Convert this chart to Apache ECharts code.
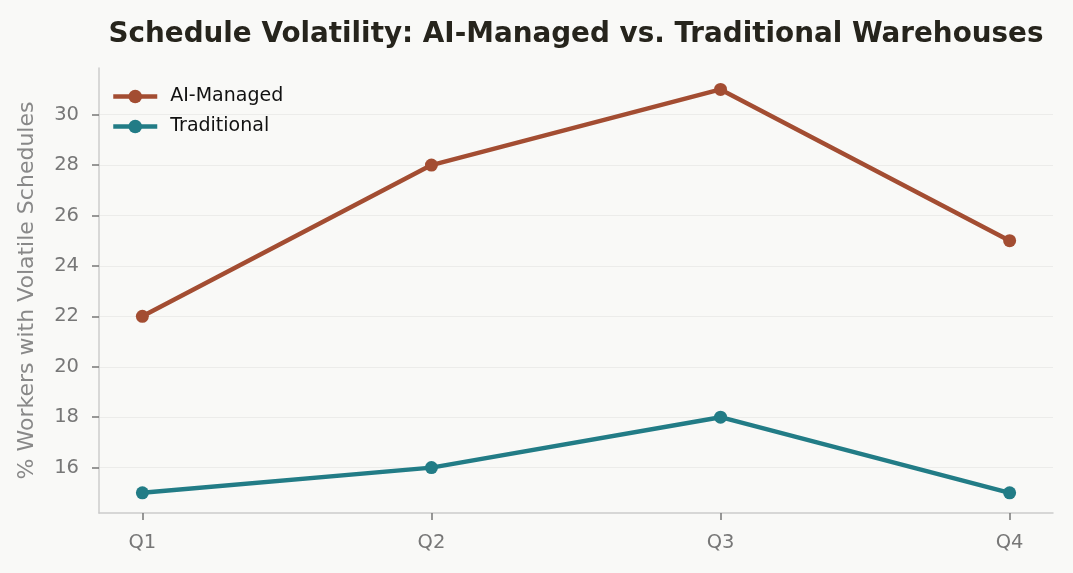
<!DOCTYPE html>
<html>
<head>
<meta charset="utf-8">
<script src="https://cdn.jsdelivr.net/npm/echarts@6/dist/echarts.min.js"></script>
<style>
  html, body { margin: 0; padding: 0; background: #f9f9f7; }
  #chart { width: 1073px; height: 573px; }
</style>
</head>
<body>
<div id="chart"></div>
<script>
// data
var quarters = ['Q1', 'Q2', 'Q3', 'Q4'];
var aiManaged = [22, 28, 31, 25];
var traditional = [15, 16, 18, 15];
var yTicks = [16, 18, 20, 22, 24, 26, 28, 30];

var font = 'DejaVu Sans';

function toPoints(vals) {
  return vals.map(function (v, i) { return [i, v]; });
}

var myChart = echarts.init(document.getElementById('chart'));
var option = {
  backgroundColor: '#f9f9f7',
  animation: false,
  title: {
    text: 'Schedule Volatility: AI-Managed vs. Traditional Warehouses',
    left: 571,
    textAlign: 'center',
    top: 16,
    textStyle: { fontFamily: font, fontSize: 27.8, fontWeight: 'bold', color: '#26241c' }
  },
  legend: {
    left: 106,
    top: 82,
    orient: 'vertical',
    itemGap: 11,
    itemWidth: 44,
    itemHeight: 17,
    lineStyle: { width: 4.5 },
    textStyle: { fontFamily: font, fontSize: 19, color: '#111', padding: [0, 0, 0, 8] },
    data: ['AI-Managed', 'Traditional']
  },
  grid: { left: 99, right: 20, top: 68, bottom: 60 },
  xAxis: {
    type: 'value',
    min: -0.15,
    max: 3.15,
    splitLine: { show: false },
    axisLine: { lineStyle: { color: '#cccccc', width: 1.5 } },
    axisTick: { show: true, customValues: [0, 1, 2, 3], length: 7, lineStyle: { color: '#777', width: 1.5 } },
    axisLabel: {
      customValues: [0, 1, 2, 3],
      formatter: function (v) { return quarters[Math.round(v)]; },
      fontFamily: font, fontSize: 19.5, color: '#777', margin: 20
    }
  },
  yAxis: {
    type: 'value',
    min: 14.2,
    max: 31.85,
    name: '% Workers with Volatile Schedules',
    nameLocation: 'middle',
    nameGap: 61,
    nameTextStyle: { fontFamily: font, fontSize: 22, color: '#888' },
    splitLine: { show: false },
    axisLine: { show: true, onZero: false, lineStyle: { color: '#cccccc', width: 1.5 } },
    axisTick: { show: true, customValues: yTicks, length: 7, lineStyle: { color: '#777', width: 1.5 } },
    axisLabel: {
      customValues: yTicks,
      fontFamily: font, fontSize: 19.5, color: '#777', margin: 20
    }
  },
  series: [
    {
      name: 'AI-Managed',
      type: 'line',
      data: toPoints(aiManaged),
      symbol: 'circle',
      symbolSize: 13,
      color: '#a34d32',
      lineStyle: { width: 4.5 },
      markLine: {
        silent: true,
        symbol: 'none',
        label: { show: false },
        lineStyle: { color: '#ececea', width: 1.2, type: 'solid' },
        data: yTicks.map(function (t) { return { yAxis: t }; }),
        z: 0
      },
      z: 3
    },
    {
      name: 'Traditional',
      type: 'line',
      data: toPoints(traditional),
      symbol: 'circle',
      symbolSize: 13,
      color: '#227c86',
      lineStyle: { width: 4.5 },
      z: 3
    }
  ]
};
myChart.setOption(option);
</script>
</body>
</html>
